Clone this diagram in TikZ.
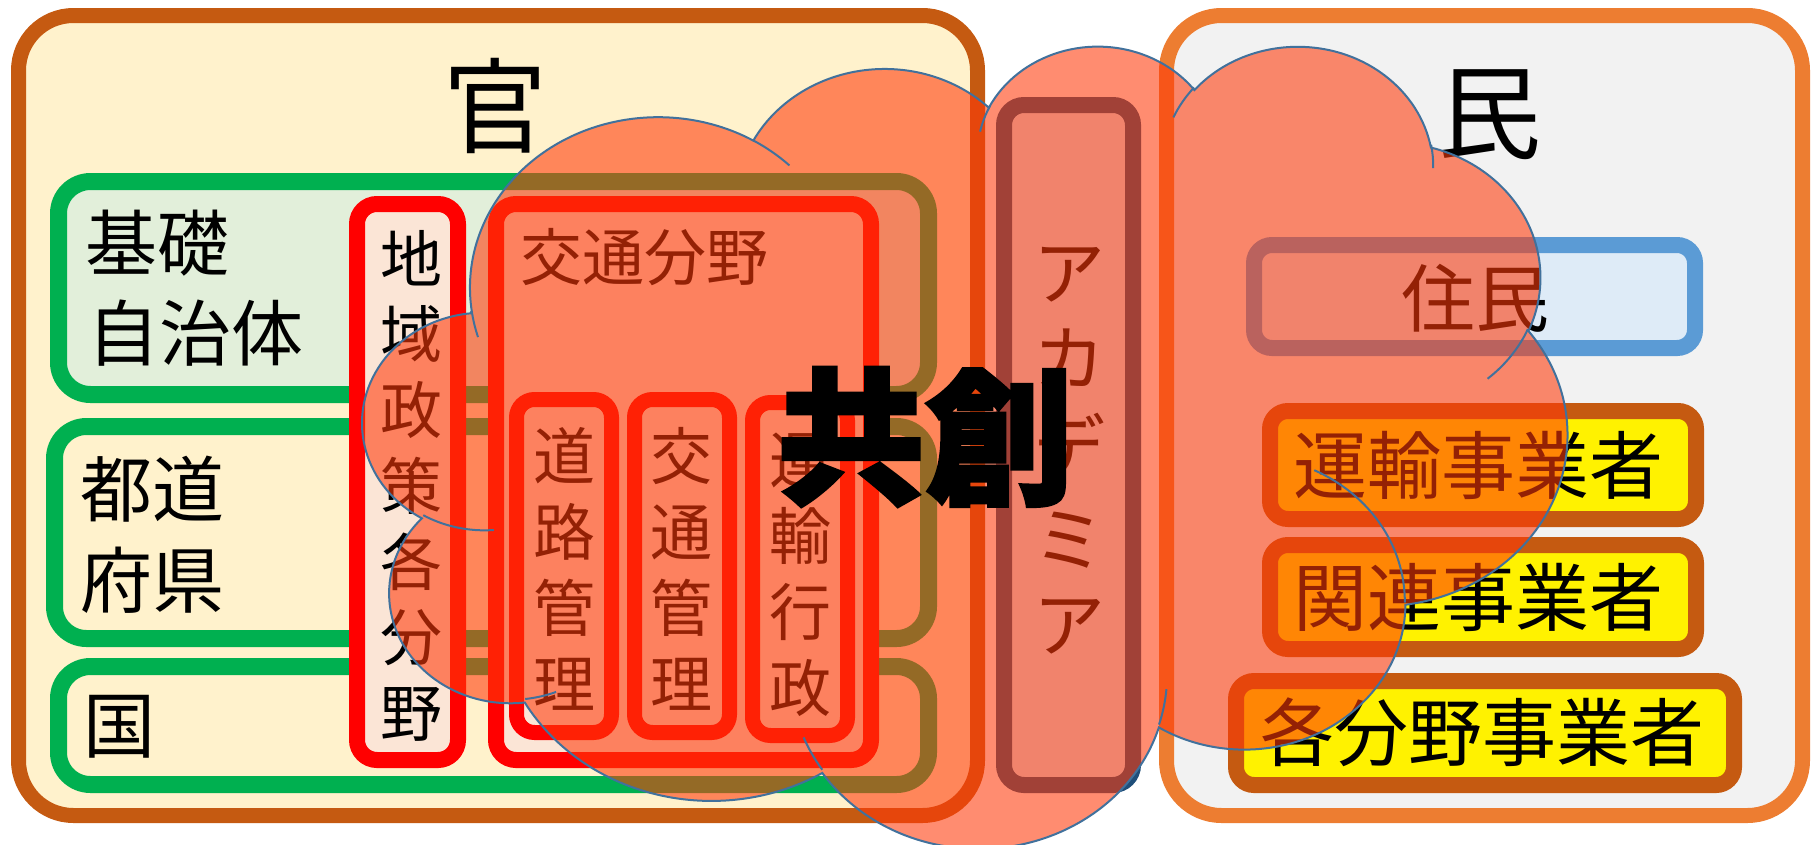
\documentclass[tikz,border=0pt]{standalone}
\usepackage{fontspec}
\newfontfamily\jp{Noto Sans CJK JP}
\newfontfamily\jpheavy{Noto Sans CJK JP}[BoldFeatures={FakeBold=2}]
\definecolor{kanline}{HTML}{C55A11}
\definecolor{kanfill}{HTML}{FFF2CC}
\definecolor{minline}{HTML}{ED7D31}
\definecolor{minfill}{HTML}{F2F2F2}
\definecolor{grn}{HTML}{00B050}
\definecolor{grnfill}{HTML}{E2EFDA}
\definecolor{pinkfill}{HTML}{FBE5D6}
\definecolor{bluel}{HTML}{5B9BD5}
\definecolor{bluefill}{HTML}{DEEBF7}
\definecolor{navy}{HTML}{1F4E79}
\definecolor{cloudc}{RGB}{255,57,9}
\definecolor{cloudedge}{HTML}{41719C}
\tikzset{
  kanbox/.style={draw=kanline, fill=kanfill, line width=15pt, rounded corners=55pt},
  minbox/.style={draw=minline, fill=minfill, line width=15pt, rounded corners=55pt},
  grnbox/.style={draw=grn, line width=17pt, rounded corners=32pt},
  redbox/.style={draw=red, fill=pinkfill, line width=16pt, rounded corners=20pt},
  subbox/.style={draw=red, fill=pinkfill, line width=15pt, rounded corners=18pt},
  acabox/.style={draw=navy, fill=bluefill, line width=16pt, rounded corners=20pt},
  resbox/.style={draw=bluel, fill=bluefill, line width=16pt, rounded corners=18pt},
  bizbox/.style={draw=kanline, fill=yellow, line width=16pt, rounded corners=18pt},
  cloudshape/.style={draw=cloudedge, line width=2pt, fill=cloudc, fill opacity=0.58},
  cloudinner/.style={draw=cloudedge, line width=2pt},
  big/.style={font=\jp\fontsize{104}{110}\selectfont, inner sep=0pt},
  lbl/.style={font=\jp\fontsize{72}{86}\selectfont, inner sep=0pt},
  mlbl/.style={font=\jp\fontsize{74}{86}\selectfont, inner sep=0pt},
  vlbl/.style={font=\jp\fontsize{62}{76}\selectfont, inner sep=0pt},
  kyo/.style={font=\jpheavy\bfseries\fontsize{148}{160}\selectfont, inner sep=0pt}
}
\newcommand\carc[4]{arc[x radius=#1, y radius=#2, start angle={atan2((#1)*sin(#3),(#2)*cos(#3))}, delta angle={mod(atan2((#1)*sin((#3)+(#4)),(#2)*cos((#3)+(#4)))-atan2((#1)*sin(#3),(#2)*cos(#3))+720,360)}]}
\begin{document}
\begin{tikzpicture}[x=1pt,y=-1pt]
\useasboundingbox[fill=white] (0,0) rectangle (1812,844);
% outer boxes
\draw[kanbox] (18.5,15.5) rectangle (977.5,815.5);
\draw[minbox] (1166.5,15.5) rectangle (1802.5,815.5);
% green boxes
\draw[grnbox, fill=grnfill] (58.5,181.5) rectangle (928.5,394.5);
\draw[grnbox, fill=kanfill] (54.5,426.5) rectangle (928.5,638.5);
\draw[grnbox, fill=kanfill] (58.5,666.5) rectangle (928.5,784.5);
% red boxes
\draw[redbox] (357,204) rectangle (458,760);
\draw[redbox] (496,204) rectangle (871,760);
\draw[subbox] (516.5,399.5) rectangle (611.5,732.5);
\draw[subbox] (634.5,399.5) rectangle (729.5,732.5);
\draw[subbox] (752.5,402.5) rectangle (847.5,735.5);
% academia
\draw[acabox] (1004,105) rectangle (1133,785);
% min side
\draw[resbox] (1254,245) rectangle (1695,348);
\draw[bizbox] (1270,411) rectangle (1696,519);
\draw[bizbox] (1270,545) rectangle (1696,649);
\draw[bizbox] (1236,681) rectangle (1734,785);
% texts
\node[big] (kan) at (495,106) {官};
\node[big] (min) at (1489,115) {民};
\node[lbl, anchor=west] (kiso) at (85,243) {基礎};
\node[lbl, anchor=west] (jichi) at (87,333) {自治体};
\node[lbl, anchor=west] (todo) at (80,489) {都道};
\node[lbl, anchor=west] (fuken) at (80,580) {府県};
\node[lbl] (kuni) at (119,727) {国};
\node[vlbl, anchor=west] (kotsu) at (520,257) {交通分野};
\foreach \c [count=\i from 0] in {地,域,政,策,各,分,野}
  \node[vlbl] (chi\i) at (411, 258+76*\i) {\c};
\foreach \c [count=\i from 0] in {道,路,管,理}
  \node[vlbl] (doro\i) at (564, 456+76*\i) {\c};
\foreach \c [count=\i from 0] in {交,通,管,理}
  \node[vlbl] (kk\i) at (681, 456+76*\i) {\c};
\foreach \c [count=\i from 0] in {運,輸,行,政}
  \node[vlbl] (unyu\i) at (800, 460+76*\i) {\c};
\node[lbl] (aca0) at (1069,275) {ア};
\node[lbl] (aca1) at (1069,358) {カ};
\node[lbl] (aca2) at (1069,446) {デ};
\node[lbl] (aca3) at (1069,540) {ミ};
\node[lbl] (aca4) at (1069,627) {ア};
\node[mlbl] (jumin) at (1475,298) {住民};
\node[mlbl] (biz1) at (1478,465) {運輸事業者};
\node[mlbl] (biz2) at (1478,597) {関連事業者};
\node[mlbl] (biz3) at (1482,732) {各分野事業者};
% cloud
\begin{scope}[shift={(363,44)}, x=0.278704pt, y=-0.185648pt]
\path[cloudshape] (390,1437)
  \carc{675.3}{919.0}{-190.487483}{123.780533}
  \carc{533.3}{726.7}{-144.102383}{89.945233}
  \carc{436.5}{594.5}{-145.807917}{99.723017}
  \carc{485.7}{659.5}{-130.986067}{117.241733}
  \carc{533.3}{727.3}{-78.708883}{109.026917}
  \carc{677.5}{922.0}{-46.26725}{130.269}
  \carc{578.5}{786.7}{0.625017}{114.033333}
  \carc{675.2}{921.5}{22.4516}{115.17255}
  \carc{772.0}{1054.3}{66.242633}{75.711017}
  \carc{436.0}{591.8}{-274.942083}{146.735567}
  \carc{434.5}{594.5}{-246.8285}{152.51885}
  -- cycle;
\path[cloudinner]
  (469.3,2617.7) \carc{434.5}{594.5}{86.742}{26.4295}
  (692.8,3489.9) \carc{436.0}{591.8}{73.610467}{11.447467}
  (1647.8,3909.0) \carc{675.2}{921.5}{137.62415}{14.0811}
  (2882.7,3475.1) \carc{675.2}{921.5}{6.453267}{15.99835}
  (3412.9,2295.4) \carc{578.5}{786.7}{-70.29235}{70.917367}
  (4179.8,1535.4) \carc{533.3}{727.3}{30.318033}{27.7515}
  (3832.4,542.6) \carc{485.7}{659.5}{-13.744333}{14.8589}
  (2907.8,395.2) \carc{485.7}{659.5}{-149.18145}{18.195367}
  (2214.1,472.0) \carc{436.5}{594.5}{-163.494267}{17.68635}
  (1400.0,519.2) \carc{675.3}{919.0}{-66.70695}{12.31935}
  (412.7,1578.9) \carc{675.3}{919.0}{157.65435}{11.858167};
\end{scope}
\node[kyo] (kyoso) at (925,437) {共創};
\end{tikzpicture}
\end{document}
